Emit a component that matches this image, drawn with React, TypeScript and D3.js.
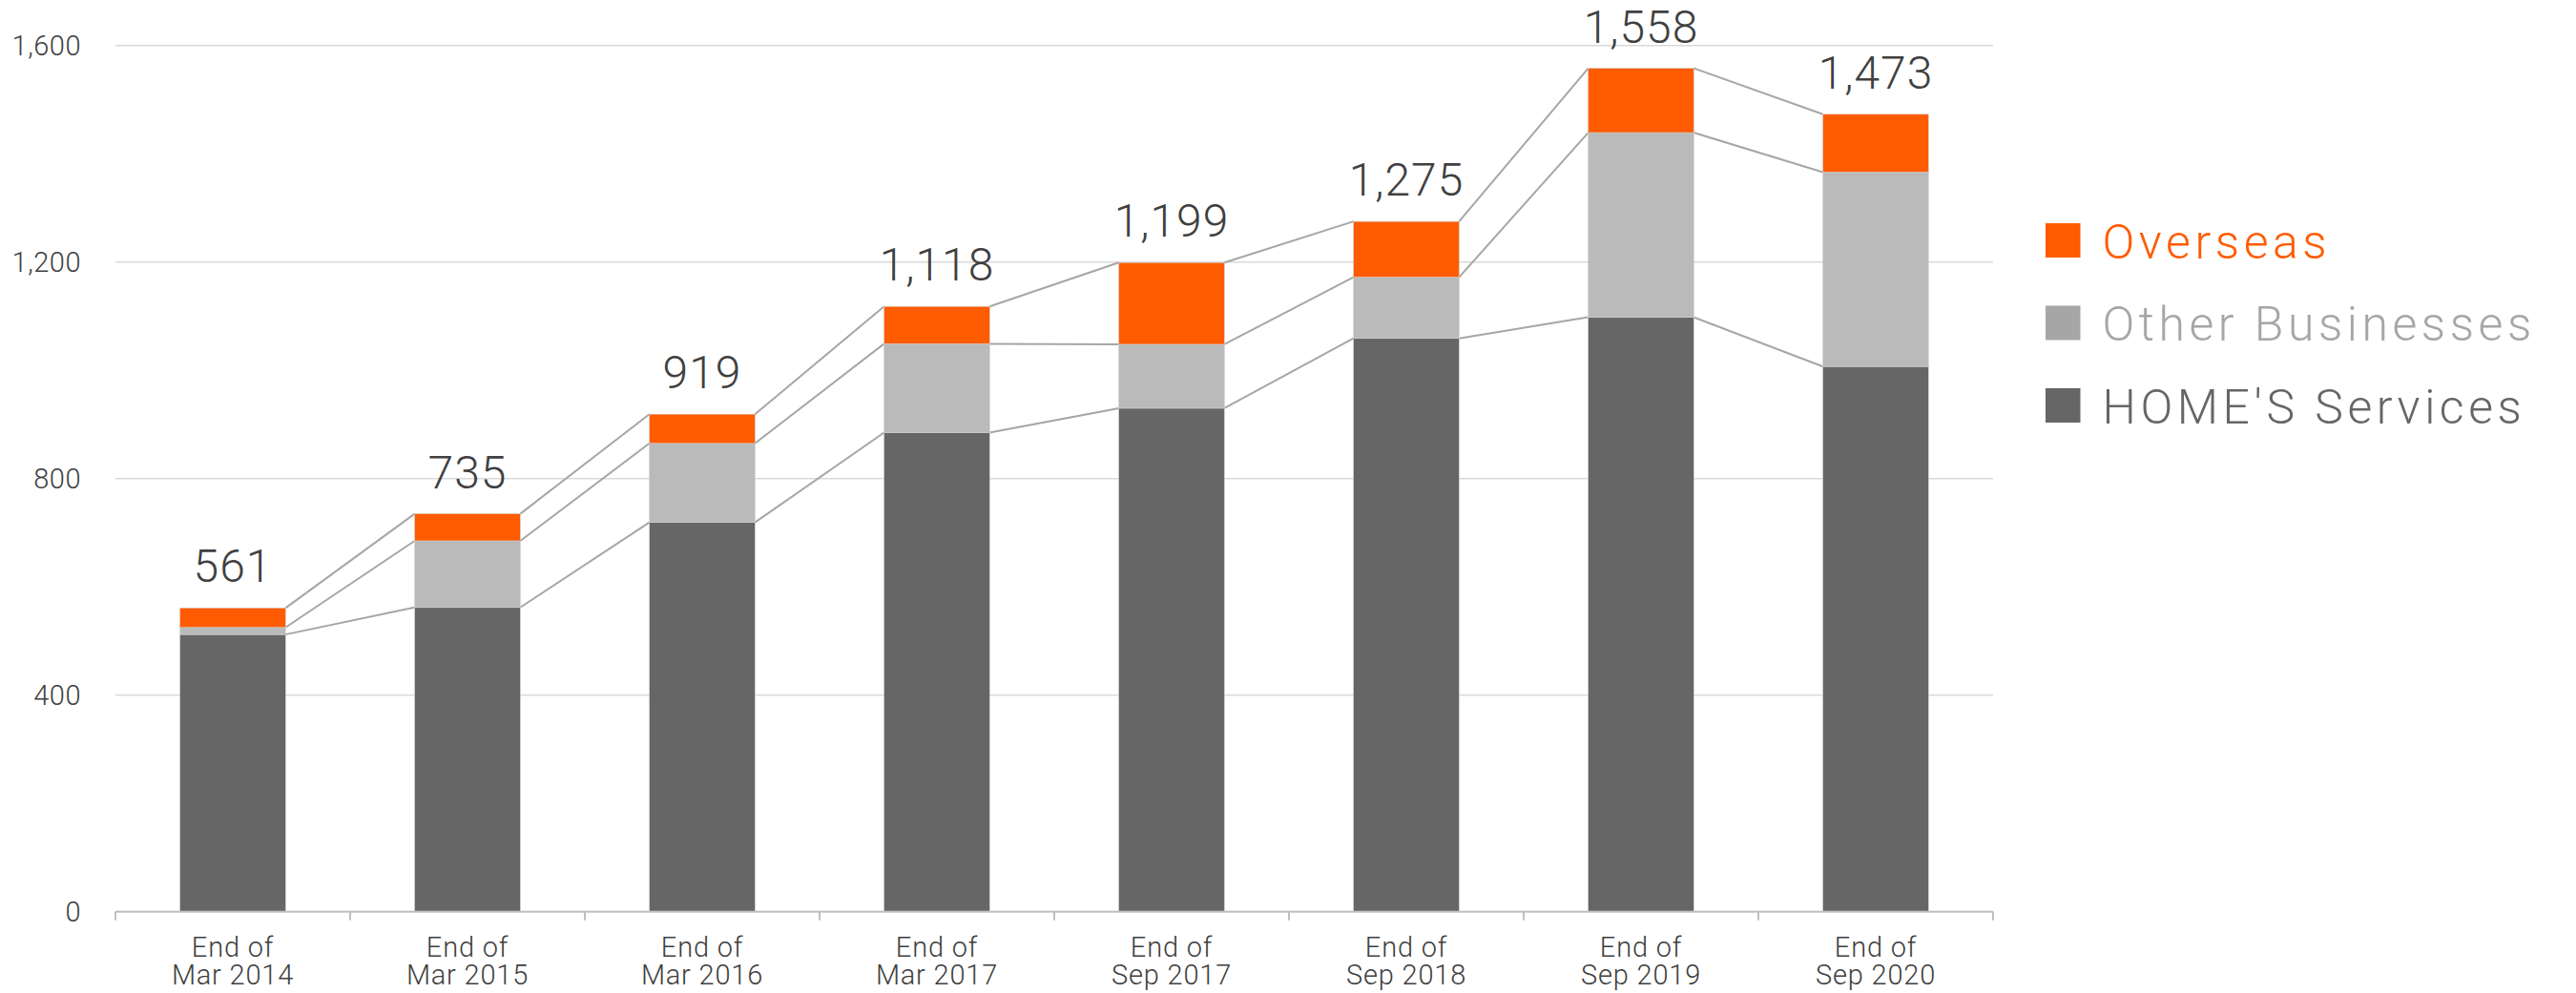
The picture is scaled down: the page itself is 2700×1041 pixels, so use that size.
import React from "react";
import * as d3 from "d3";

const categories = [
  ["End of", "Mar 2014"],
  ["End of", "Mar 2015"],
  ["End of", "Mar 2016"],
  ["End of", "Mar 2017"],
  ["End of", "Sep 2017"],
  ["End of", "Sep 2018"],
  ["End of", "Sep 2019"],
  ["End of", "Sep 2020"],
];
const homesServices = [512, 562, 719, 885, 930, 1059, 1098, 1007];
const otherBusinesses = [13, 123, 146, 164, 118, 113, 341, 359];
const overseas = [36, 50, 54, 69, 151, 103, 119, 107];
const totals = [561, 735, 919, 1118, 1199, 1275, 1558, 1473];
const yTicks = [0, 400, 800, 1200, 1600];

const seriesNames = ["HOME'S Services", "Other Businesses", "Overseas"];
const barColors = ["#666666", "#bababa", "#ff5b00"];
const legendSwatch = ["#666666", "#a6a6a6", "#ff5b00"];
const legendText = ["#666666", "#a6a6a6", "#ff5b00"];

const W = 2700;
const H = 1041;
const left = 121;
const right = 2089;
const y0 = 955.7;
const y1600 = 47.7;

export default function App() {
  const keys = categories.map((c) => c.join(" "));
  const x = d3
    .scaleBand<string>()
    .domain(keys)
    .range([left, right])
    .paddingInner(0.55)
    .paddingOuter(0.275);
  const y = d3.scaleLinear().domain([0, 1600]).range([y0, y1600]);

  const rows = keys.map((k, i) => ({
    key: k,
    home: homesServices[i],
    other: otherBusinesses[i],
    overseas: overseas[i],
  }));
  const stack = d3.stack<any>().keys(["home", "other", "overseas"]);
  const stacked = stack(rows);

  const bw = x.bandwidth();
  const font = "Roboto, 'Open Sans', sans-serif";

  const connectors: JSX.Element[] = [];
  stacked.forEach((s, si) => {
    for (let i = 0; i < keys.length - 1; i++) {
      const xa = (x(keys[i]) as number) + bw;
      const xb = x(keys[i + 1]) as number;
      connectors.push(
        <line
          key={`c-${si}-${i}`}
          x1={xa}
          x2={xb}
          y1={y(s[i][1])}
          y2={y(s[i + 1][1])}
          stroke="#a6a6a6"
          strokeWidth={2}
        />
      );
    }
  });

  const step = x.step();
  const boundaries = d3.range(keys.length + 1).map((k) => left + k * step);

  return (
    <svg
      width={W}
      height={H}
      style={{ position: "absolute", left: 0, top: 0, background: "#fff" }}
      fontFamily={font}
    >
      <rect x={0} y={0} width={W} height={H} fill="#fff" />
      {yTicks
        .filter((t) => t > 0)
        .map((t) => (
          <line
            key={`g-${t}`}
            x1={left}
            x2={right}
            y1={y(t)}
            y2={y(t)}
            stroke="#d9d9d9"
            strokeWidth={1.6}
          />
        ))}
      {yTicks.map((t) => (
        <text
          key={`yl-${t}`}
          x={85}
          y={y(t)}
          textAnchor="end"
          dominantBaseline="central"
          fontSize={29}
          fontWeight={300}
          letterSpacing={0.5}
          fill="#404040"
        >
          {d3.format(",")(t)}
        </text>
      ))}
      {connectors}
      {stacked.map((s, si) =>
        s.map((d, i) => (
          <rect
            key={`b-${si}-${i}`}
            x={x(keys[i])}
            width={bw}
            y={y(d[1])}
            height={y(d[0]) - y(d[1])}
            fill={barColors[si]}
            stroke="#cfcfcf"
            strokeWidth={0.6}
          />
        ))
      )}
      <line x1={left} x2={right} y1={y0} y2={y0} stroke="#bfbfbf" strokeWidth={2} />
      {boundaries.map((bx, i) => (
        <line key={`t-${i}`} x1={bx} x2={bx} y1={y0} y2={y0 + 9} stroke="#bfbfbf" strokeWidth={2} />
      ))}
      {categories.map((c, i) => (
        <text
          key={`xl-${i}`}
          x={(x(keys[i]) as number) + bw / 2}
          textAnchor="middle"
          fontSize={29}
          fontWeight={300}
          letterSpacing={0.8}
          fill="#404040"
        >
          <tspan x={(x(keys[i]) as number) + bw / 2} y={1003}>
            {c[0]}
          </tspan>
          <tspan x={(x(keys[i]) as number) + bw / 2} y={1032}>
            {c[1]}
          </tspan>
        </text>
      ))}
      {totals.map((t, i) => (
        <text
          key={`tot-${i}`}
          x={(x(keys[i]) as number) + bw / 2}
          y={y(t) - 27}
          textAnchor="middle"
          fontSize={48}
          fontWeight={300}
          letterSpacing={1}
          fill="#404040"
        >
          {d3.format(",")(t)}
        </text>
      ))}
      {[2, 1, 0].map((si, j) => (
        <g key={`lg-${si}`} transform={`translate(2144, ${234 + j * 86.5})`}>
          <rect x={0} y={0} width={36.5} height={36} fill={legendSwatch[si]} />
          <text
            x={59.5}
            y={36.5}
            fontSize={50}
            fontWeight={300}
            letterSpacing={4.5}
            fill={legendText[si]}
          >
            {seriesNames[si]}
          </text>
        </g>
      ))}
    </svg>
  );
}
